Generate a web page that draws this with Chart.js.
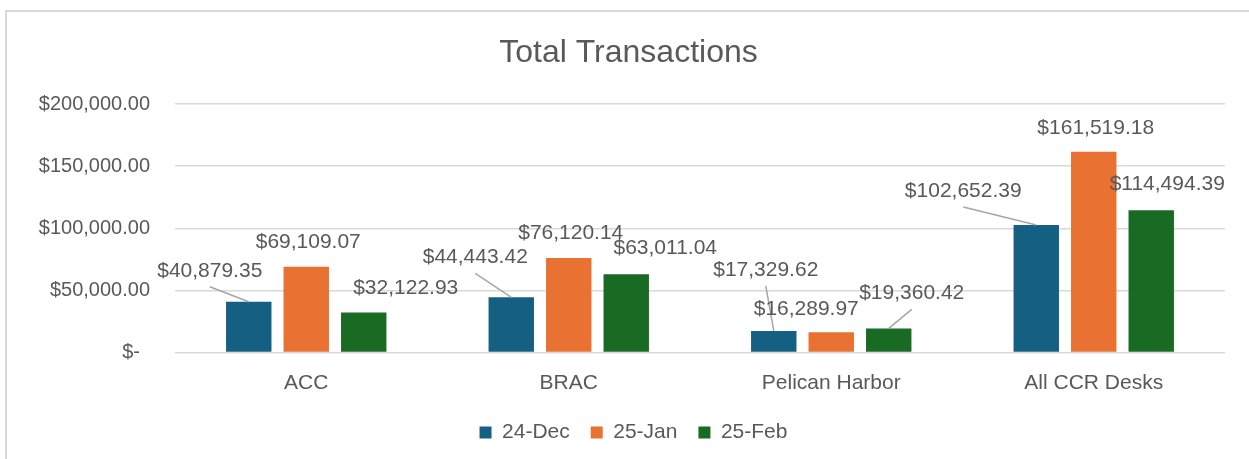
<!DOCTYPE html>
<html>
<head>
<meta charset="utf-8">
<title>Total Transactions</title>
<script src="https://cdn.jsdelivr.net/npm/chart.js@4.4.1/dist/chart.umd.min.js"></script>
<style>
  html, body { margin: 0; padding: 0; background: #fff; overflow: hidden; }
  #frame { position: absolute; left: 5px; top: 10px; width: 1300px; height: 500px; border: 2px solid #d9d9d9; }
  #totalChart { position: absolute; left: 0; top: 0; }
</style>
</head>
<body>
<div id="frame"></div>
<canvas id="totalChart" width="1249" height="459"></canvas>
<script>
/* Chart data */
const categories = ['ACC', 'BRAC', 'Pelican Harbor', 'All CCR Desks'];
const seriesNames = ['24-Dec', '25-Jan', '25-Feb'];
const dec24 = [40879.35, 44443.42, 17329.62, 102652.39];
const jan25 = [69109.07, 76120.14, 16289.97, 161519.18];
const feb25 = [32122.93, 63011.04, 19360.42, 114494.39];
const yTickLabels = ['$-', '$50,000.00', '$100,000.00', '$150,000.00', '$200,000.00'];

/* label placement (dx, dy from bar top, leader line) - styling only */
const labelShift = [
    [[-39, -31, true], [-36, -40, true], [-8, -61, true], [-73, -34, true]],
    [[2, -24, false], [2, -25, false], [-25, -23, false], [2, -24, false]],
    [[42, -24, false], [39, -26, false], [23, -35, true], [16, -26, false]]
];

const textGrey = '#595959';
const fontFamily = '"Liberation Sans", Arial, sans-serif';

function money(v) {
    return '$' + v.toLocaleString('en-US', { minimumFractionDigits: 2, maximumFractionDigits: 2 });
}

/* Data labels with leader lines */
const valueLabels = {
    id: 'valueLabels',
    afterDatasetsDraw(chart) {
        const ctx = chart.ctx;
        ctx.save();
        ctx.font = '21px ' + fontFamily;
        ctx.textAlign = 'center';
        ctx.textBaseline = 'middle';
        chart.data.datasets.forEach((ds, di) => {
            chart.getDatasetMeta(di).data.forEach((bar, i) => {
                const [dx, dy, leader] = labelShift[di][i];
                const lx = bar.x + dx, ly = bar.y + dy;
                if (leader) {
                    ctx.strokeStyle = '#a6a6a6';
                    ctx.lineWidth = 1.5;
                    ctx.beginPath();
                    ctx.moveTo(lx, ly + 16);
                    ctx.lineTo(bar.x, bar.y);
                    ctx.stroke();
                }
                ctx.fillStyle = textGrey;
                ctx.fillText(money(ds.data[i]), lx, ly);
            });
        });
        ctx.restore();
    }
};

/* title and legend are centred on the whole frame, not the plot */
const centreBoxes = {
    id: 'centreBoxes',
    afterLayout(chart) {
        chart.titleBlock.left += 16;
        chart.titleBlock.right += 16;
        chart.legend.left += 21;
        chart.legend.right += 21;
    }
};

const ctx = document.getElementById('totalChart').getContext('2d');
const totalChart = new Chart(ctx, {
    type: 'bar',
    data: {
        labels: categories,
        datasets: [
            { label: seriesNames[0], data: dec24, backgroundColor: '#156082' },
            { label: seriesNames[1], data: jan25, backgroundColor: '#e97132' },
            { label: seriesNames[2], data: feb25, backgroundColor: '#196b24' }
        ]
    },
    options: {
        responsive: false,
        animation: false,
        devicePixelRatio: 1,
        categoryPercentage: 0.657,
        barPercentage: 0.79,
        layout: { padding: { left: 0, right: 24, top: 0, bottom: 6 } },
        plugins: {
            title: {
                display: true,
                text: 'Total Transactions',
                color: textGrey,
                font: { family: fontFamily, size: 32, weight: 'normal' },
                padding: { top: 34, bottom: 31.6 }
            },
            legend: {
                position: 'bottom',
                labels: {
                    color: textGrey,
                    font: { family: fontFamily, size: 21 },
                    boxWidth: 12,
                    boxHeight: 12,
                    padding: 21
                }
            },
            tooltip: { enabled: false }
        },
        scales: {
            x: {
                grid: { display: false },
                border: { display: false },
                ticks: {
                    color: textGrey,
                    font: { family: fontFamily, size: 21 },
                    padding: 10
                },
                afterFit(axis) { axis.height = 48.5; }
            },
            y: {
                min: 0,
                max: 200000,
                border: { display: false },
                grid: { color: '#d9d9d9', lineWidth: 1.5, drawTicks: false },
                ticks: {
                    stepSize: 50000,
                    color: textGrey,
                    font: { family: fontFamily, size: 20 },
                    padding: 25,
                    callback: (v, i) => i === 0 ? yTickLabels[i] + '\u2002' : yTickLabels[i]
                },
                afterFit(axis) { axis.width = 175; }
            }
        }
    },
    plugins: [valueLabels, centreBoxes]
})
</script>
</body>
</html>
